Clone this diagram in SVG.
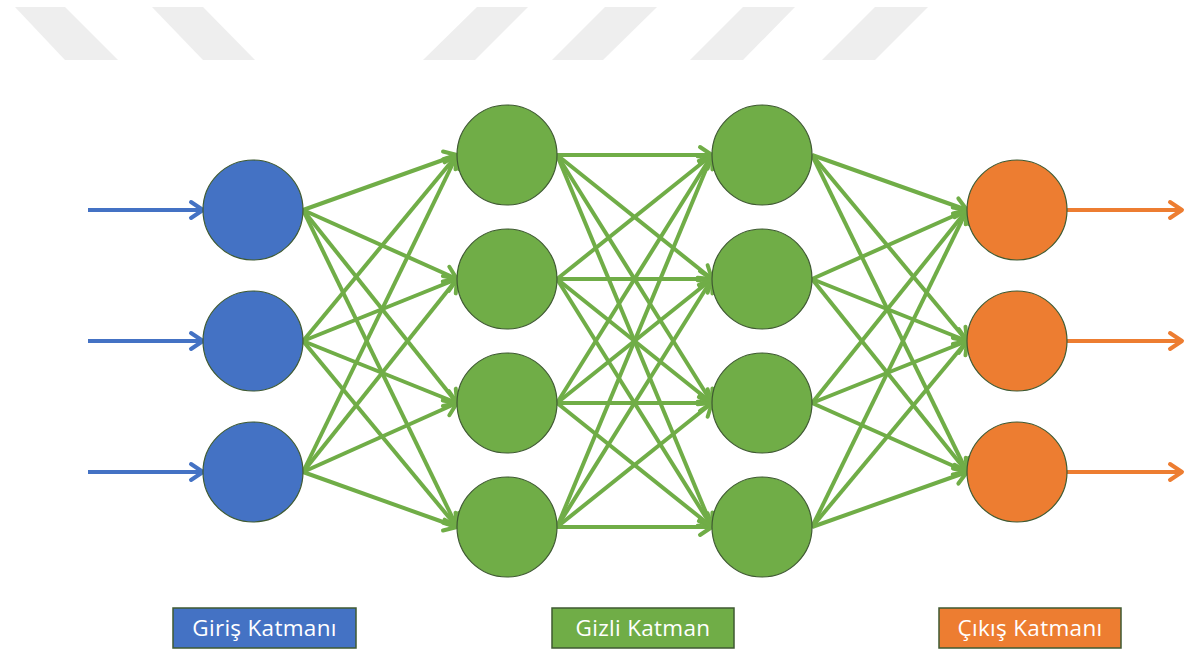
<svg xmlns="http://www.w3.org/2000/svg" width="1190" height="651" viewBox="0 0 1190 651">
<style>
.wm{fill:#eeeeee}
.in{fill:#4472C4}
.hid{fill:#70AD47}
.out{fill:#ED7D31}
.node{stroke:#3f5a32;stroke-width:1.2}
.g{stroke:#70AD47;stroke-width:4;fill:none;marker-end:url(#ag)}
.b{stroke:#4472C4;stroke-width:4;fill:none;marker-end:url(#ab)}
.o{stroke:#ED7D31;stroke-width:4;fill:none;marker-end:url(#ao)}
.lbl{stroke:#3f5a32;stroke-width:1.5}
.t{font-family:"Open Sans","Liberation Sans",sans-serif;font-size:22.5px;fill:#ffffff;text-anchor:middle;letter-spacing:0.3px}
</style>
<defs>
<marker id="ag" markerUnits="userSpaceOnUse" markerWidth="24" markerHeight="24" viewBox="0 0 24 24" refX="16" refY="12" orient="auto">
<path d="M4,4 L16,12 L4,20" fill="none" stroke="#70AD47" stroke-width="4" stroke-linecap="round" stroke-linejoin="round"/>
</marker>
<marker id="ab" markerUnits="userSpaceOnUse" markerWidth="24" markerHeight="24" viewBox="0 0 24 24" refX="16" refY="12" orient="auto">
<path d="M4,4 L16,12 L4,20" fill="none" stroke="#4472C4" stroke-width="4" stroke-linecap="round" stroke-linejoin="round"/>
</marker>
<marker id="ao" markerUnits="userSpaceOnUse" markerWidth="24" markerHeight="24" viewBox="0 0 24 24" refX="16" refY="12" orient="auto">
<path d="M4,4 L16,12 L4,20" fill="none" stroke="#ED7D31" stroke-width="4" stroke-linecap="round" stroke-linejoin="round"/>
</marker>
</defs>
<rect width="1190" height="651" fill="#ffffff"/>
<g id="watermark">
<polygon class="wm" points="15,7 65,7 118,60 65,60"/>
<polygon class="wm" points="152,7 203,7 255,60 203,60"/>
<polygon class="wm" points="477,7 528,7 475,60 423,60"/>
<polygon class="wm" points="605,7 657,7 603,60 552,60"/>
<polygon class="wm" points="743,7 795,7 743,60 690,60"/>
<polygon class="wm" points="875,7 928,7 875,60 822,60"/>
</g>
<g id="connectors">
<line class="b" x1="88" y1="210" x2="203" y2="210"/>
<line class="b" x1="88" y1="341" x2="203" y2="341"/>
<line class="b" x1="88" y1="472" x2="203" y2="472"/>
<line class="o" x1="1067" y1="210" x2="1182" y2="210"/>
<line class="o" x1="1067" y1="341" x2="1182" y2="341"/>
<line class="o" x1="1067" y1="472" x2="1182" y2="472"/>
<line class="g" x1="303" y1="210" x2="457" y2="155"/>
<line class="g" x1="303" y1="210" x2="457" y2="279"/>
<line class="g" x1="303" y1="210" x2="457" y2="403"/>
<line class="g" x1="303" y1="210" x2="457" y2="527"/>
<line class="g" x1="303" y1="341" x2="457" y2="155"/>
<line class="g" x1="303" y1="341" x2="457" y2="279"/>
<line class="g" x1="303" y1="341" x2="457" y2="403"/>
<line class="g" x1="303" y1="341" x2="457" y2="527"/>
<line class="g" x1="303" y1="472" x2="457" y2="155"/>
<line class="g" x1="303" y1="472" x2="457" y2="279"/>
<line class="g" x1="303" y1="472" x2="457" y2="403"/>
<line class="g" x1="303" y1="472" x2="457" y2="527"/>
<line class="g" x1="557" y1="155" x2="712" y2="155"/>
<line class="g" x1="557" y1="155" x2="712" y2="279"/>
<line class="g" x1="557" y1="155" x2="712" y2="403"/>
<line class="g" x1="557" y1="155" x2="712" y2="527"/>
<line class="g" x1="557" y1="279" x2="712" y2="155"/>
<line class="g" x1="557" y1="279" x2="712" y2="279"/>
<line class="g" x1="557" y1="279" x2="712" y2="403"/>
<line class="g" x1="557" y1="279" x2="712" y2="527"/>
<line class="g" x1="557" y1="403" x2="712" y2="155"/>
<line class="g" x1="557" y1="403" x2="712" y2="279"/>
<line class="g" x1="557" y1="403" x2="712" y2="403"/>
<line class="g" x1="557" y1="403" x2="712" y2="527"/>
<line class="g" x1="557" y1="527" x2="712" y2="155"/>
<line class="g" x1="557" y1="527" x2="712" y2="279"/>
<line class="g" x1="557" y1="527" x2="712" y2="403"/>
<line class="g" x1="557" y1="527" x2="712" y2="527"/>
<line class="g" x1="812" y1="155" x2="967" y2="210"/>
<line class="g" x1="812" y1="155" x2="967" y2="341"/>
<line class="g" x1="812" y1="155" x2="967" y2="472"/>
<line class="g" x1="812" y1="279" x2="967" y2="210"/>
<line class="g" x1="812" y1="279" x2="967" y2="341"/>
<line class="g" x1="812" y1="279" x2="967" y2="472"/>
<line class="g" x1="812" y1="403" x2="967" y2="210"/>
<line class="g" x1="812" y1="403" x2="967" y2="341"/>
<line class="g" x1="812" y1="403" x2="967" y2="472"/>
<line class="g" x1="812" y1="527" x2="967" y2="210"/>
<line class="g" x1="812" y1="527" x2="967" y2="341"/>
<line class="g" x1="812" y1="527" x2="967" y2="472"/>
</g>
<g id="in1"><circle class="in node" cx="253" cy="210" r="50"/></g>
<g id="in2"><circle class="in node" cx="253" cy="341" r="50"/></g>
<g id="in3"><circle class="in node" cx="253" cy="472" r="50"/></g>
<g id="h1a"><circle class="hid node" cx="507" cy="155" r="50"/></g>
<g id="h1b"><circle class="hid node" cx="507" cy="279" r="50"/></g>
<g id="h1c"><circle class="hid node" cx="507" cy="403" r="50"/></g>
<g id="h1d"><circle class="hid node" cx="507" cy="527" r="50"/></g>
<g id="h2a"><circle class="hid node" cx="762" cy="155" r="50"/></g>
<g id="h2b"><circle class="hid node" cx="762" cy="279" r="50"/></g>
<g id="h2c"><circle class="hid node" cx="762" cy="403" r="50"/></g>
<g id="h2d"><circle class="hid node" cx="762" cy="527" r="50"/></g>
<g id="out1"><circle class="out node" cx="1017" cy="210" r="50"/></g>
<g id="out2"><circle class="out node" cx="1017" cy="341" r="50"/></g>
<g id="out3"><circle class="out node" cx="1017" cy="472" r="50"/></g>
<g id="label-input"><rect class="in lbl" x="173" y="608" width="183" height="40"/><text class="t" x="264.5" y="636">Giriş Katmanı</text></g>
<g id="label-hidden"><rect class="hid lbl" x="552" y="608" width="182" height="40"/><text class="t" x="643" y="636">Gizli Katman</text></g>
<g id="label-output"><rect class="out lbl" x="939" y="608" width="182" height="40"/><text class="t" x="1030" y="636">Çıkış Katmanı</text></g>
</svg>
